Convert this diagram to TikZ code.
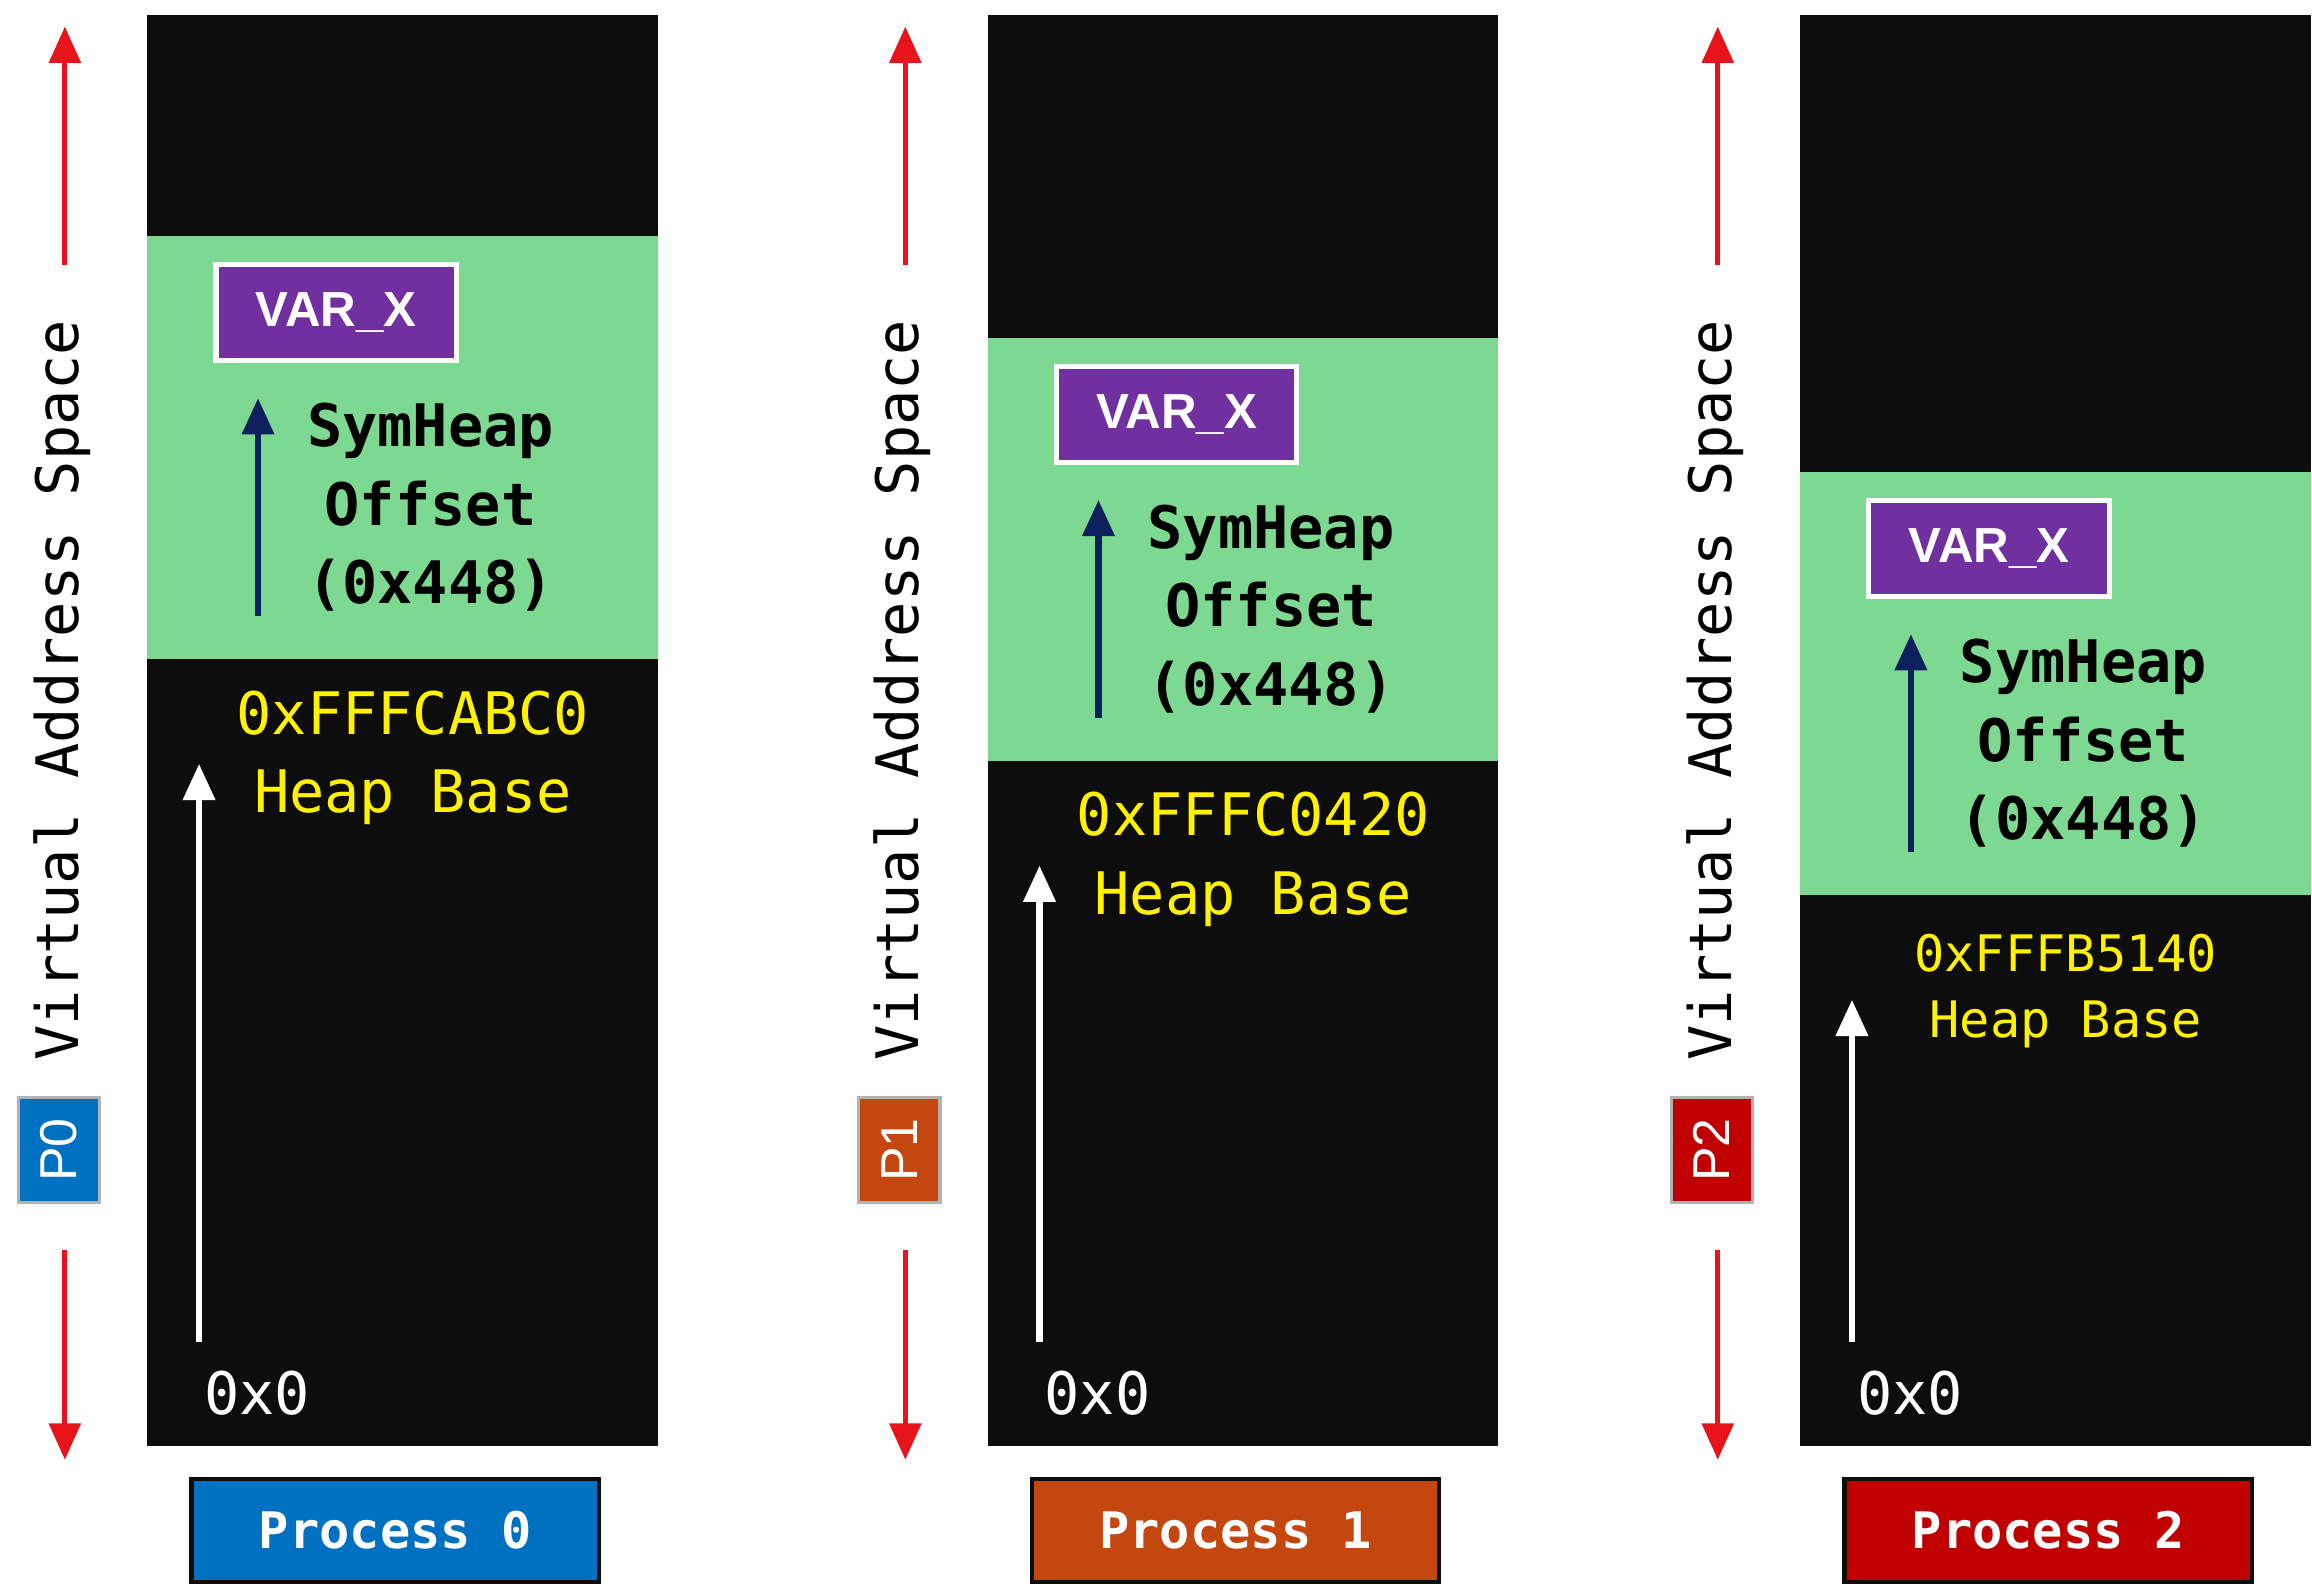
\documentclass[tikz,border=0pt]{standalone}
\usepackage{fontspec}
\setmainfont{Liberation Sans}
\newfontfamily\monofont{DejaVu Sans Mono}
\usepackage{tikz}
\usetikzlibrary{arrows.meta}
\usetikzlibrary{positioning}
\usepackage{xcolor}
\definecolor{memblack}{HTML}{0D0D0D}
\definecolor{heapgreen}{HTML}{7DD992}
\definecolor{varpurple}{HTML}{7030A0}
\definecolor{navy}{HTML}{0D1F5C}
\definecolor{addrred}{HTML}{E8141C}
\definecolor{pblue}{HTML}{0070C0}
\definecolor{porange}{HTML}{C4470F}
\definecolor{pred}{HTML}{C00000}

\tikzset{
  mem/.style={fill=memblack, draw=none},
  heap/.style={fill=heapgreen, draw=none},
  var/.style={fill=varpurple, draw=white, line width=1pt, text=white,
    font=\fontsize{9.5}{10}\selectfont\bfseries},
  offs/.style={align=center, font=\monofont\fontsize{11.3}{15.2}\selectfont\bfseries},
  base/.style={align=center, text=yellow},
  zero/.style={text=white, anchor=west, font=\monofont\fontsize{11.3}{12}\selectfont},
  proc/.style={draw=memblack, line width=0.8pt, text=white, minimum width=2.76cm,
    minimum height=0.7cm, font=\monofont\fontsize{9.7}{10}\selectfont\bfseries},
  tag/.style={draw=gray!60, line width=0.6pt, text=white, minimum width=0.71cm,
    minimum height=0.55cm, rotate=90, font=\fontsize{10}{10}\selectfont},
  vas/.style={rotate=90, font=\monofont\fontsize{11.3}{12}\selectfont},
  redarr/.style={addrred, line width=1pt, -{Triangle[length=7pt,width=6pt]}},
  navyarr/.style={navy, line width=1.3pt, -{Triangle[length=7pt,width=6pt]}},
  whitearr/.style={white, line width=1.3pt, -{Triangle[length=7pt,width=6pt]}}
}

\begin{document}
\begin{tikzpicture}[x=0.01cm, y=-0.01cm]
  \useasboundingbox (0,0) rectangle (1568,1075);

  % one column per process
  \foreach \i/\dx/\gy/\col/\addr/\bsize/\bskip/\by in {0/0/0/pblue/0xFFFCABC0/11.3/15.2/514,
                                            1/570/69/porange/0xFFFC0420/11.3/15.2/514,
                                            2/1121/160/pred/0xFFFB5140/9.7/12.8/512} {
    \begin{scope}[xshift=\dx*0.01cm]
      \fill[mem] (100,10) rectangle (446,981);
      \fill[heap] (100,160+\gy) rectangle (446,447+\gy);
      \node[var, minimum width=1.63cm, minimum height=0.65cm] (var\i) at (228,212+\gy) {VAR\_X};
      \coordinate (ofsS\i) at (175,418+\gy);
      \coordinate (ofsE\i) at (175,270+\gy);
      \draw[navyarr] (ofsS\i) -- (ofsE\i);
      \node[offs] (ofs\i) at (292,344+\gy) {SymHeap\\Offset\\(0x448)};
      \node[base, font=\monofont\fontsize{\bsize}{\bskip}\selectfont] (base\i) at (280,\by+\gy) {\addr\\Heap Base};
      \coordinate (zeroS\i) at (135,910);
      \coordinate (zeroE\i) at (135,518+\gy);
      \draw[whitearr] (zeroS\i) -- (zeroE\i);
      \node[zero] (zero\i) at (126,945) {0x0};
      \node[proc, fill=\col] (proc\i) at (268,1038) {Process \i};
      \node[vas] (vas\i) at (42,468) {Virtual Address Space};
      \node[tag, fill=\col] (tag\i) at (40,780) {P\i};
      \coordinate (upS\i) at (44,180);
      \coordinate (upE\i) at (44,18);
      \coordinate (dnS\i) at (44,848);
      \coordinate (dnE\i) at (44,990);
      \draw[redarr] (upS\i) -- (upE\i);
      \draw[redarr] (dnS\i) -- (dnE\i);
    \end{scope}
  }
\end{tikzpicture}
\end{document}
